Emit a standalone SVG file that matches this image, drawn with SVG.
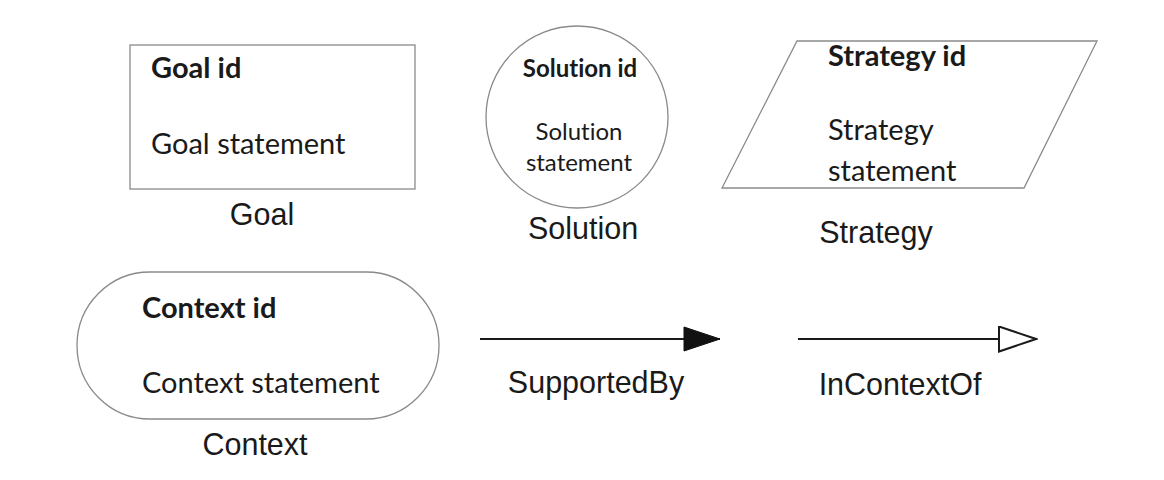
<svg xmlns="http://www.w3.org/2000/svg" width="1164" height="480" viewBox="0 0 1164 480">
<style>
.shape{fill:#fff;stroke:#8a8a8a;stroke-width:1.3}
.t{font-family:Lato,"Open Sans",sans-serif;font-size:29px;fill:#1a1a1a;font-variant-ligatures:none}
.b{font-weight:bold}
.s{font-size:24px}
.lbl{font-family:"Liberation Sans",Arial,sans-serif;font-size:30.5px;fill:#1a1a1a}
.conn{stroke:#1a1a1a;stroke-width:2;fill:none}
</style>
<defs>
<marker id="filled" markerUnits="userSpaceOnUse" markerWidth="40" markerHeight="28" refX="37" refY="13" orient="auto">
<path d="M1,1 L37,13 L1,25 Z" fill="#111" stroke="#111" stroke-width="1"/>
</marker>
<marker id="open" markerUnits="userSpaceOnUse" markerWidth="40" markerHeight="28" refX="1" refY="13.5" orient="auto">
<path d="M1,1 L38,13.5 L1,26 Z" fill="#fff" stroke="#1a1a1a" stroke-width="2"/>
</marker>
</defs>
<rect width="1164" height="480" fill="#fff"/>
<g id="goal">
<rect class="shape" x="130" y="45" width="285" height="144"/>
<text class="t b" x="151" y="78">Goal id</text>
<text class="t" x="151" y="154">Goal statement</text>
<text class="lbl" x="262" y="225" text-anchor="middle">Goal</text>
</g>
<g id="solution">
<circle class="shape" cx="577" cy="117" r="91"/>
<text class="t b s" x="580" y="77" text-anchor="middle">Solution id</text>
<text class="t s" x="579" y="140" text-anchor="middle">Solution</text>
<text class="t s" x="579" y="171" text-anchor="middle">statement</text>
<text class="lbl" x="583" y="239" text-anchor="middle">Solution</text>
</g>
<g id="strategy">
<polygon class="shape" points="797,41 1097,41 1024,188 722,188"/>
<text class="t b" x="828" y="66">Strategy id</text>
<text class="t" x="828" y="140">Strategy</text>
<text class="t" x="828" y="181">statement</text>
<text class="lbl" x="876" y="243" text-anchor="middle">Strategy</text>
</g>
<g id="context">
<rect class="shape" x="77" y="272" width="362" height="147" rx="73" ry="73.5"/>
<text class="t b" x="142" y="318">Context id</text>
<text class="t" x="142" y="393">Context statement</text>
<text class="lbl" x="255" y="455" text-anchor="middle">Context</text>
</g>
<g id="connectors">
<line class="conn" x1="480" y1="339" x2="720" y2="339" marker-end="url(#filled)"/>
<line class="conn" x1="798" y1="339" x2="999" y2="339" marker-end="url(#open)"/>
</g>
<g id="legend-labels">
<text class="lbl" x="596" y="393" text-anchor="middle">SupportedBy</text>
<text class="lbl" x="900" y="395" text-anchor="middle">InContextOf</text>
</g>
</svg>
